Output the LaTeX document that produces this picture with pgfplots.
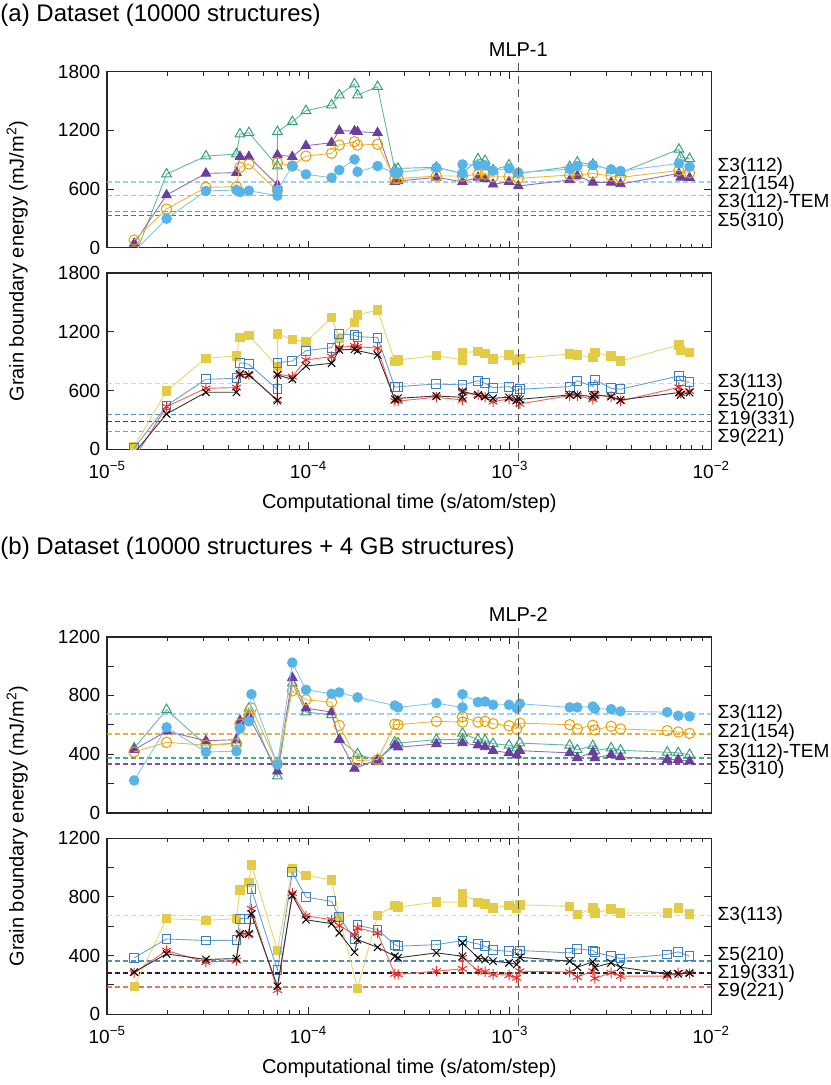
\documentclass[border=0pt]{standalone}
\usepackage{fontspec}
\setmainfont{Liberation Sans}
\usepackage{pgfplots}
\pgfplotsset{compat=1.18}

\definecolor{cSky}{HTML}{56B4E9}
\definecolor{cOra}{HTML}{E69F00}
\definecolor{cGrn}{HTML}{2FA27E}
\definecolor{cPur}{HTML}{6B3FA0}
\definecolor{cYel}{HTML}{E3CB45}
\definecolor{cBlu}{HTML}{3A80C0}
\definecolor{cRed}{HTML}{E5302A}

\pgfplotsset{
  every axis/.append style={
    xmode=log, scale only axis, width=302pt, height=88pt,
    xmin=1e-5, xmax=1e-2,
    xtick={1e-5,1e-4,1e-3,1e-2},
    minor xtick={2e-5,3e-5,4e-5,5e-5,6e-5,7e-5,8e-5,9e-5,
                 2e-4,3e-4,4e-4,5e-4,6e-4,7e-4,8e-4,9e-4,
                 2e-3,3e-3,4e-3,5e-3,6e-3,7e-3,8e-3,9e-3},
    xtick pos=both, ytick pos=both, tick align=inside,
    major tick length=3.5pt, minor tick length=2pt,
    tick style={black!85, line width=0.5pt},
    axis line style={line width=0.8pt, black!85},
    tick label style={font=\fontsize{9.5}{11}\selectfont},
    xticklabel style={yshift=-2.5pt},
    /pgf/number format/assume math mode=true,
    /pgf/number format/1000 sep={},
    clip mode=individual, clip marker paths=true,
    anchor=north west,
  },
  panA/.style={ymin=0, ymax=1800, ytick={0,600,1200,1800}},
  panB/.style={ymin=0, ymax=1200, ytick={0,200,...,1200}, yticklabels={0,,400,,800,,1200}},
  notx/.style={xticklabels={}},
  withx/.style={xticklabels={10\textsuperscript{−5},10\textsuperscript{−4},10\textsuperscript{−3},10\textsuperscript{−2}}},
  sSky/.style={color=cSky!75, line width=0.45pt, mark=*, mark size=2.4pt, mark options={draw=cSky, fill=cSky, solid}},
  sOra/.style={color=cOra!75, line width=0.45pt, mark=o, mark size=2.6pt, mark options={draw=cOra, solid, line width=0.5pt}},
  sGrn/.style={color=cGrn!75, line width=0.45pt, mark=triangle, mark size=2.8pt, mark options={draw=cGrn, solid, line width=0.5pt}},
  sPur/.style={color=cPur!75, line width=0.45pt, mark=triangle*, mark size=2.7pt, mark options={draw=cPur, fill=cPur, solid}},
  sYel/.style={color=cYel!80, line width=0.45pt, mark=square*, mark size=2.1pt, mark options={draw=cYel, fill=cYel, solid}},
  sBlu/.style={color=cBlu!75, line width=0.45pt, mark=square, mark size=2.2pt, mark options={draw=cBlu, solid, line width=0.5pt}},
  sRed/.style={color=cRed!75, line width=0.45pt, mark=asterisk, mark size=2.6pt, mark options={draw=cRed, solid, line width=0.5pt}},
  sBlk/.style={color=black!80, line width=0.45pt, mark=x, mark size=2.6pt, mark options={draw=black, solid, line width=0.5pt}},
  refline/.style={line width=0.75pt, dash pattern=on 2.2pt off 1.8pt, forget plot},
}
\tikzset{siglab/.style={anchor=west, inner sep=0pt, xshift=3pt, font=\fontsize{9.5}{11}\selectfont}}

\begin{document}
\begin{tikzpicture}
\useasboundingbox (-53.65pt,35.85pt) rectangle (361.35pt,-506.65pt);

% ---------- (a) top
\begin{axis}[panA, notx, at={(0pt,0pt)}]
  \addplot[refline, cSky!60] coordinates {(1e-5,672) (1e-2,672)};
  \addplot[refline, cOra!80] coordinates {(1e-5,532) (1e-2,532)};
  \addplot[refline, cGrn!90] coordinates {(1e-5,372) (1e-2,372)};
  \addplot[refline, cPur!90] coordinates {(1e-5,331) (1e-2,331)};
  \addplot[sGrn] coordinates {(1.36e-5,-106) (1.97e-5,753) (3.09e-5,937) (4.38e-5,958) (4.56e-5,1162) (5.05e-5,1176) (7.0e-5,835) (7.0e-5,1186) (8.3e-5,1289) (9.7e-5,1401) (1.30e-4,1459) (1.42e-4,1561) (1.69e-4,1674) (1.75e-4,1561) (2.20e-4,1647) (2.68e-4,801) (2.78e-4,811) (4.31e-4,822) (5.81e-4,760) (6.94e-4,907) (7.52e-4,890) (8.24e-4,794) (9.89e-4,845) (1.10e-3,760) (1.98e-3,828) (2.16e-3,873) (2.58e-3,852) (3.18e-3,794) (3.54e-3,767) (6.90e-3,1006) (7.05e-3,924) (7.80e-3,910)};
  \addplot[sPur] coordinates {(1.36e-5,44) (1.97e-5,539) (3.09e-5,760) (4.38e-5,767) (4.56e-5,931) (5.05e-5,931) (7.0e-5,641) (7.0e-5,948) (8.3e-5,931) (9.7e-5,1043) (1.30e-4,1074) (1.42e-4,1197) (1.69e-4,1193) (1.75e-4,1186) (2.20e-4,1176) (2.68e-4,675) (2.78e-4,682) (4.31e-4,719) (5.81e-4,675) (6.94e-4,719) (7.52e-4,702) (8.24e-4,648) (9.89e-4,675) (1.10e-3,631) (1.98e-3,692) (2.16e-3,736) (2.58e-3,668) (3.18e-3,668) (3.54e-3,651) (6.90e-3,760) (7.05e-3,719) (7.80e-3,716)};
  \addplot[sOra] coordinates {(1.36e-5,78) (1.97e-5,395) (3.09e-5,617) (4.38e-5,624) (4.56e-5,822) (5.05e-5,856) (7.0e-5,583) (7.0e-5,869) (8.3e-5,835) (9.7e-5,937) (1.30e-4,965) (1.42e-4,1050) (1.69e-4,1084) (1.75e-4,1050) (2.20e-4,1057) (2.68e-4,706) (2.78e-4,706) (4.31e-4,733) (5.81e-4,733) (6.94e-4,750) (7.52e-4,750) (8.24e-4,726) (9.89e-4,726) (1.10e-3,709) (1.98e-3,743) (2.16e-3,743) (2.58e-3,760) (3.18e-3,733) (3.54e-3,719) (6.90e-3,790) (7.80e-3,767)};
  \addplot[sSky] coordinates {(1.36e-5,-42) (1.97e-5,297) (3.09e-5,580) (4.38e-5,590) (4.56e-5,569) (5.05e-5,583) (7.0e-5,532) (7.0e-5,590) (8.3e-5,835) (9.7e-5,750) (1.30e-4,716) (1.42e-4,794) (1.69e-4,903) (1.75e-4,777) (2.20e-4,835) (2.68e-4,767) (2.78e-4,767) (4.31e-4,818) (5.81e-4,760) (5.81e-4,852) (6.94e-4,842) (7.52e-4,842) (8.24e-4,787) (9.89e-4,811) (1.10e-3,767) (1.98e-3,804) (2.16e-3,835) (2.58e-3,845) (3.18e-3,801) (3.54e-3,784) (6.90e-3,862) (7.80e-3,828)};
  \coordinate (mA) at (axis cs:1.1e-3,1800);
  \node[siglab] at (axis cs:1e-2,830) {Σ3(112)};
  \node[siglab] at (axis cs:1e-2,643) {Σ21(154)};
  \node[siglab] at (axis cs:1e-2,457) {Σ3(112)-TEM};
  \node[siglab] at (axis cs:1e-2,272) {Σ5(310)};
\end{axis}

% ---------- (a) bottom
\begin{axis}[panA, withx, at={(0pt,-100.8pt)}]
  \addplot[refline, cYel!70] coordinates {(1e-5,675) (1e-2,675)};
  \addplot[refline, cBlu!90] coordinates {(1e-5,358) (1e-2,358)};
  \addplot[refline, black!75] coordinates {(1e-5,283) (1e-2,283)};
  \addplot[refline, cRed!70] coordinates {(1e-5,181) (1e-2,181)};
  \addplot[sYel] coordinates {(1.36e-5,27) (1.97e-5,597) (3.09e-5,931) (4.38e-5,955) (4.56e-5,1145) (5.05e-5,1166) (7.0e-5,845) (7.0e-5,1180) (8.3e-5,1125) (9.7e-5,1098) (1.30e-4,1347) (1.42e-4,1135) (1.69e-4,1299) (1.75e-4,1374) (2.20e-4,1425) (2.68e-4,900) (2.78e-4,914) (4.31e-4,958) (5.81e-4,914) (5.81e-4,989) (6.94e-4,999) (7.52e-4,982) (8.24e-4,924) (9.89e-4,965) (1.08e-3,914) (1.12e-3,931) (1.98e-3,975) (2.16e-3,965) (2.58e-3,941) (2.64e-3,989) (3.18e-3,955) (3.54e-3,903) (6.90e-3,1067) (7.05e-3,1009) (7.80e-3,989)};
  \addplot[sBlu] coordinates {(1.36e-5,10) (1.97e-5,447) (3.09e-5,716) (4.38e-5,726) (4.56e-5,886) (5.05e-5,869) (7.0e-5,614) (7.0e-5,886) (8.3e-5,903) (9.7e-5,1009) (1.30e-4,1040) (1.42e-4,1180) (1.69e-4,1169) (1.75e-4,1152) (2.20e-4,1142) (2.68e-4,634) (2.78e-4,641) (4.31e-4,668) (5.81e-4,658) (6.94e-4,702) (7.52e-4,675) (8.24e-4,631) (9.89e-4,641) (1.08e-3,597) (1.12e-3,614) (1.98e-3,641) (2.16e-3,702) (2.58e-3,641) (2.64e-3,709) (3.18e-3,624) (3.54e-3,614) (6.90e-3,750) (7.05e-3,702) (7.80e-3,685)};
  \addplot[sRed] coordinates {(1.36e-5,-93) (1.97e-5,436) (3.09e-5,624) (4.38e-5,631) (4.56e-5,770) (5.05e-5,760) (7.0e-5,505) (7.0e-5,770) (8.3e-5,743) (9.7e-5,914) (1.30e-4,948) (1.42e-4,1043) (1.69e-4,1057) (1.75e-4,1050) (2.20e-4,1033) (2.68e-4,494) (2.78e-4,494) (4.31e-4,532) (5.81e-4,505) (5.81e-4,580) (6.94e-4,556) (7.52e-4,532) (8.24e-4,487) (9.89e-4,515) (1.08e-3,487) (1.12e-3,464) (1.98e-3,549) (2.16e-3,549) (2.58e-3,511) (2.64e-3,556) (3.18e-3,539) (3.54e-3,494) (6.90e-3,634) (7.05e-3,573) (7.80e-3,597)};
  \addplot[sBlk] coordinates {(1.36e-5,-40) (1.97e-5,361) (3.09e-5,583) (4.38e-5,583) (4.56e-5,770) (5.05e-5,760) (7.0e-5,498) (7.0e-5,760) (8.3e-5,716) (9.7e-5,852) (1.30e-4,880) (1.42e-4,1016) (1.69e-4,1023) (1.75e-4,1009) (2.20e-4,965) (2.68e-4,511) (2.78e-4,522) (4.31e-4,545) (5.81e-4,532) (5.81e-4,590) (6.94e-4,556) (7.52e-4,539) (8.24e-4,522) (9.89e-4,532) (1.08e-3,505) (1.12e-3,511) (1.98e-3,556) (2.16e-3,556) (2.58e-3,539) (2.64e-3,556) (3.18e-3,539) (3.54e-3,505) (6.90e-3,580) (7.05e-3,556) (7.80e-3,580)};
  \coordinate (mB) at (axis cs:1.1e-3,0);
  \node[siglab] at (axis cs:1e-2,680) {Σ3(113)};
  \node[siglab] at (axis cs:1e-2,492) {Σ5(210)};
  \node[siglab] at (axis cs:1e-2,306) {Σ19(331)};
  \node[siglab] at (axis cs:1e-2,119) {Σ9(221)};
\end{axis}

% ---------- (b) top
\begin{axis}[panB, notx, at={(0pt,-282.5pt)}]
  \addplot[refline, cSky!60] coordinates {(1e-5,672) (1e-2,672)};
  \addplot[refline, cOra!80] coordinates {(1e-5,537) (1e-2,537)};
  \addplot[refline, cGrn!90] coordinates {(1e-5,374) (1e-2,374)};
  \addplot[refline, cPur!90] coordinates {(1e-5,333) (1e-2,333)};
  \addplot[sGrn] coordinates {(1.36e-5,441) (1.97e-5,702) (3.09e-5,460) (4.38e-5,475) (4.56e-5,600) (5.05e-5,713) (7.0e-5,249) (8.3e-5,883) (9.7e-5,686) (1.30e-4,668) (1.42e-4,498) (1.75e-4,401) (2.20e-4,355) (2.68e-4,482) (2.78e-4,475) (4.31e-4,498) (5.81e-4,498) (5.81e-4,541) (6.94e-4,498) (7.52e-4,494) (8.24e-4,471) (9.89e-4,460) (1.08e-3,441) (1.12e-3,475) (1.98e-3,460) (2.16e-3,428) (2.58e-3,457) (2.64e-3,423) (3.18e-3,441) (3.54e-3,426) (6.04e-3,412) (6.85e-3,408) (7.80e-3,396)};
  \addplot[sPur] coordinates {(1.36e-5,430) (1.97e-5,555) (3.09e-5,491) (4.38e-5,498) (4.56e-5,629) (5.05e-5,657) (7.0e-5,283) (8.3e-5,921) (9.7e-5,713) (1.30e-4,686) (1.42e-4,498) (1.69e-4,301) (2.20e-4,362) (2.68e-4,460) (2.78e-4,446) (4.31e-4,469) (5.81e-4,475) (6.94e-4,460) (7.52e-4,448) (8.24e-4,423) (9.89e-4,408) (1.08e-3,392) (1.12e-3,423) (1.98e-3,408) (2.16e-3,374) (2.58e-3,412) (2.64e-3,374) (3.18e-3,396) (3.54e-3,380) (6.04e-3,362) (6.85e-3,362) (7.80e-3,351)};
  \addplot[sOra] coordinates {(1.36e-5,414) (1.97e-5,480) (3.09e-5,460) (4.38e-5,471) (4.56e-5,605) (5.05e-5,663) (5.2e-5,713) (7.0e-5,333) (8.3e-5,831) (9.7e-5,770) (1.30e-4,754) (1.42e-4,595) (1.75e-4,355) (2.20e-4,362) (2.68e-4,604) (2.78e-4,600) (4.31e-4,623) (5.81e-4,618) (5.81e-4,654) (6.94e-4,618) (7.52e-4,623) (8.24e-4,607) (9.89e-4,593) (1.08e-3,571) (1.12e-3,611) (1.98e-3,600) (2.16e-3,571) (2.58e-3,596) (2.64e-3,564) (3.18e-3,589) (3.54e-3,571) (6.04e-3,559) (6.85e-3,550) (7.80e-3,541)};
  \addplot[sSky] coordinates {(1.36e-5,220) (1.97e-5,582) (3.09e-5,414) (4.38e-5,419) (4.56e-5,573) (5.05e-5,623) (5.2e-5,808) (7.0e-5,328) (8.3e-5,1023) (9.7e-5,838) (1.30e-4,811) (1.42e-4,820) (1.75e-4,786) (2.68e-4,731) (2.78e-4,718) (4.31e-4,747) (5.81e-4,718) (5.81e-4,808) (6.94e-4,754) (7.52e-4,758) (8.24e-4,736) (9.89e-4,736) (1.08e-3,713) (1.12e-3,743) (1.98e-3,718) (2.16e-3,718) (2.58e-3,724) (2.64e-3,709) (3.18e-3,706) (3.54e-3,691) (6.04e-3,686) (6.85e-3,661) (7.80e-3,657)};
  \coordinate (mC) at (axis cs:1.1e-3,1200);
  \node[siglab] at (axis cs:1e-2,674) {Σ3(112)};
  \node[siglab] at (axis cs:1e-2,543) {Σ21(154)};
  \node[siglab] at (axis cs:1e-2,412) {Σ3(112)-TEM};
  \node[siglab] at (axis cs:1e-2,294) {Σ5(310)};
\end{axis}

% ---------- (b) bottom
\begin{axis}[panB, withx, at={(0pt,-383.3pt)}]
  \addplot[refline, cYel!70] coordinates {(1e-5,675) (1e-2,675)};
  \addplot[refline, cBlu!90] coordinates {(1e-5,362) (1e-2,362)};
  \addplot[refline, black!85] coordinates {(1e-5,283) (1e-2,283)};
  \addplot[refline, cRed!70] coordinates {(1e-5,186) (1e-2,186)};
  \addplot[sYel] coordinates {(1.36e-5,188) (1.97e-5,652) (3.09e-5,641) (4.38e-5,652) (4.56e-5,847) (5.05e-5,899) (5.2e-5,1019) (7.0e-5,435) (8.3e-5,996) (9.7e-5,946) (1.30e-4,917) (1.42e-4,661) (1.75e-4,177) (2.20e-4,675) (2.68e-4,743) (2.78e-4,731) (4.31e-4,765) (5.81e-4,765) (5.81e-4,820) (6.94e-4,763) (7.52e-4,752) (8.24e-4,725) (9.89e-4,743) (1.08e-3,720) (1.12e-3,747) (1.98e-3,736) (2.16e-3,679) (2.58e-3,725) (2.64e-3,691) (3.18e-3,718) (3.54e-3,691) (6.04e-3,691) (6.85e-3,725) (7.80e-3,684)};
  \addplot[sBlu] coordinates {(1.36e-5,385) (1.97e-5,514) (3.09e-5,503) (4.38e-5,505) (4.56e-5,652) (5.05e-5,652) (5.2e-5,854) (7.0e-5,301) (8.3e-5,969) (9.7e-5,799) (1.30e-4,770) (1.42e-4,661) (1.69e-4,514) (1.75e-4,607) (2.20e-4,577) (2.68e-4,475) (2.78e-4,464) (4.31e-4,475) (5.81e-4,503) (6.94e-4,480) (7.52e-4,464) (8.24e-4,437) (9.89e-4,430) (1.08e-3,414) (1.12e-3,435) (1.98e-3,419) (2.16e-3,446) (2.58e-3,435) (2.64e-3,423) (3.18e-3,396) (3.54e-3,380) (6.04e-3,408) (6.85e-3,426) (7.80e-3,396)};
  \addplot[sRed] coordinates {(1.36e-5,283) (1.97e-5,435) (3.09e-5,355) (4.38e-5,367) (4.56e-5,548) (5.05e-5,548) (5.2e-5,720) (7.0e-5,165) (8.3e-5,826) (9.7e-5,672) (1.30e-4,645) (1.42e-4,605) (1.69e-4,543) (1.75e-4,589) (2.20e-4,555) (2.68e-4,276) (2.78e-4,272) (4.31e-4,294) (5.81e-4,310) (5.81e-4,385) (6.94e-4,299) (7.52e-4,290) (8.24e-4,272) (9.89e-4,267) (1.08e-3,249) (1.12e-3,294) (1.98e-3,288) (2.16e-3,254) (2.58e-3,294) (2.64e-3,245) (3.18e-3,283) (3.54e-3,260) (6.04e-3,260) (6.85e-3,283) (7.80e-3,278)};
  \addplot[sBlk] coordinates {(1.36e-5,288) (1.97e-5,412) (3.09e-5,374) (4.38e-5,380) (4.56e-5,548) (5.05e-5,548) (5.2e-5,684) (7.0e-5,192) (8.3e-5,810) (9.7e-5,645) (1.30e-4,618) (1.42e-4,555) (1.69e-4,423) (1.75e-4,509) (2.20e-4,457) (2.68e-4,396) (2.78e-4,385) (4.31e-4,419) (5.81e-4,396) (5.81e-4,487) (6.94e-4,385) (7.52e-4,374) (8.24e-4,362) (9.89e-4,351) (1.08e-3,340) (1.12e-3,389) (1.98e-3,362) (2.16e-3,321) (2.58e-3,358) (2.64e-3,321) (3.18e-3,351) (3.54e-3,321) (6.04e-3,276) (6.85e-3,276) (7.80e-3,281)};
  \coordinate (mD) at (axis cs:1.1e-3,0);
  \node[siglab] at (axis cs:1e-2,672) {Σ3(113)};
  \node[siglab] at (axis cs:1e-2,401) {Σ5(210)};
  \node[siglab] at (axis cs:1e-2,280) {Σ19(331)};
  \node[siglab] at (axis cs:1e-2,158) {Σ9(221)};
\end{axis}

% MLP markers, titles and shared labels
\draw[black!65, line width=0.8pt, dash pattern=on 4pt off 2.5pt] ([yshift=4.5pt]mA) -- ([yshift=-6pt]mB);
\draw[black!65, line width=0.8pt, dash pattern=on 4pt off 2.5pt] ([yshift=4.5pt]mC) -- ([yshift=-6pt]mD);
\node[anchor=south, inner sep=0pt, font=\fontsize{10}{12}\selectfont] at ([yshift=7.5pt]mA) {MLP-1};
\node[anchor=south, inner sep=0pt, font=\fontsize{10}{12}\selectfont] at ([yshift=7.5pt]mC) {MLP-2};
\node[anchor=west, inner sep=0pt, font=\fontsize{12}{14}\selectfont] at (-53.6pt,28.4pt) {(a) Dataset (10000 structures)};
\node[anchor=west, inner sep=0pt, font=\fontsize{12}{14}\selectfont] at (-53.6pt,-238.2pt) {(b) Dataset (10000 structures + 4 GB structures)};
\node[rotate=90, inner sep=0pt, font=\fontsize{10}{12}\selectfont] at (-45pt,-94.6pt) {Grain boundary energy (mJ/m\textsuperscript{2})};
\node[rotate=90, inner sep=0pt, font=\fontsize{10}{12}\selectfont] at (-45pt,-377.1pt) {Grain boundary energy (mJ/m\textsuperscript{2})};
\node[inner sep=0pt, font=\fontsize{10}{12}\selectfont] at (151pt,-215.6pt) {Computational time (s/atom/step)};
\node[inner sep=0pt, font=\fontsize{10}{12}\selectfont] at (151pt,-498.2pt) {Computational time (s/atom/step)};
\end{tikzpicture}
\end{document}
